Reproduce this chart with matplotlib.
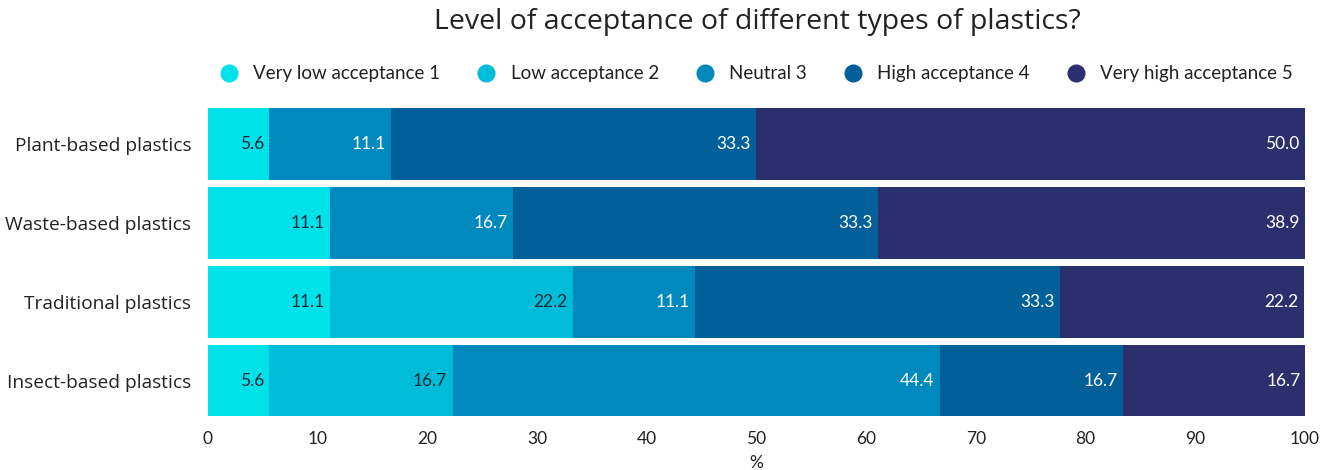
import matplotlib.pyplot as plt
import numpy as np
from matplotlib.lines import Line2D

# Survey results (% of respondents)
categories = ['Plant-based plastics', 'Waste-based plastics',
              'Traditional plastics', 'Insect-based plastics']
levels = ['Very low acceptance 1', 'Low acceptance 2', 'Neutral 3',
          'High acceptance 4', 'Very high acceptance 5']
very_low = [5.6, 11.1, 11.1, 5.6]
low = [0.0, 0.0, 22.2, 16.7]
neutral = [11.1, 16.7, 11.1, 44.4]
high = [33.3, 33.3, 33.3, 16.7]
very_high = [50.0, 38.9, 22.2, 16.7]

colors = ['#00e1e9', '#00bcd9', '#0089bd', '#015f99', '#2b2f6e']
text_colors = ['#1a2a3a', '#1a2a3a', 'white', 'white', 'white']

series = [very_low, low, neutral, high, very_high]

plt.rcParams['font.family'] = ['Lato', 'DejaVu Sans']

fig = plt.figure(figsize=(13.35, 4.70), dpi=100)
ax = fig.add_axes([0.1558, 0.1064, 0.8217, 0.6713])

y = np.arange(len(categories))
left = np.zeros(len(categories))
for vals, col, tcol in zip(series, colors, text_colors):
    vals = np.array(vals)
    ax.barh(y, vals, left=left, height=0.91, color=col, edgecolor='none')
    for yi, (l, v) in enumerate(zip(left, vals)):
        if v > 0:
            ax.text(l + v - 0.5, yi, f'{v:.1f}', ha='right', va='center',
                    color=tcol, fontsize=12.5)
    left += vals

ax.set_xlim(0, 100)
ax.set_ylim(3.5, -0.5)
ax.set_yticks(y)
ax.set_yticklabels(categories, fontsize=13.8, color='#222222',
                   family=['Open Sans', 'DejaVu Sans'])
ax.set_xticks(range(0, 101, 10))
ax.tick_params(axis='x', labelsize=12.5, colors='#222222', length=0, pad=8)
ax.tick_params(axis='y', length=0, pad=12)
ax.set_xlabel('%', fontsize=12.5, color='#222222', labelpad=6)
for s in ax.spines.values():
    s.set_visible(False)

handles = [Line2D([0], [0], marker='o', linestyle='none', markersize=13,
                  markerfacecolor=c, markeredgecolor='none') for c in colors]
fig.legend(handles, levels, loc='center', bbox_to_anchor=(0.563, 0.843),
           ncol=5, frameon=False, fontsize=13.5, handletextpad=0.3,
           columnspacing=1.45, labelcolor='#222222')

fig.text(0.567, 0.953, 'Level of acceptance of different types of plastics?',
         ha='center', va='center', fontsize=20.5, color='#222222',
         family=['Open Sans', 'DejaVu Sans'])

fig.savefig('out.png', dpi=100)
